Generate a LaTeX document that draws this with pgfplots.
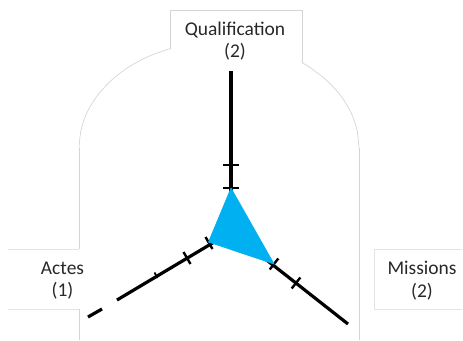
\documentclass[border=0pt]{standalone}
\usepackage{pgfplots}
\pgfplotsset{compat=1.18}
\usepackage{fontspec}
\setmainfont{Carlito}
\definecolor{fillblue}{RGB}{0,176,240}
\definecolor{outline}{RGB}{212,212,212}
\definecolor{boxline}{RGB}{228,228,228}
\definecolor{txt}{RGB}{40,40,40}
\begin{document}
\begin{tikzpicture}
\begin{axis}[
  scale only axis,
  width=347.25pt, height=255pt,
  xmin=0, xmax=463, ymin=0, ymax=340,
  y dir=reverse,
  hide axis,
  clip=false,
]
% keep the full frame in the bounding box
\addplot[draw=none] coordinates {(0,0) (463,340)};

% rounded outline behind the chart
\addplot[outline, line width=0.5pt, smooth] coordinates {
  (79,148) (81.1,129.6) (87.4,111.7) (97.8,95) (111.8,79.9) (129,66.8) (149,56.2) (170,48.7)};
\addplot[outline, line width=0.5pt, smooth] coordinates {
  (302,62.7) (309,66.8) (326.2,79.9) (340.2,95) (350.6,111.7) (356.9,129.6) (359,148)};
\addplot[outline, line width=0.5pt] coordinates {(359,148) (359,340)};
\addplot[outline, line width=0.5pt] coordinates {(79,148) (79,249)};
\addplot[outline, line width=0.5pt] coordinates {(79,309) (79,340)};

% label boxes
\addplot[outline, line width=0.5pt] coordinates {(170,48.7) (170,10) (302,10) (302,62.7)};
\addplot[boxline, line width=0.5pt] coordinates {(8,249) (79,249)};
\addplot[boxline, line width=0.5pt] coordinates {(8,309) (79,309)};
\addplot[boxline, line width=0.5pt] coordinates {(462,249) (374,249) (374,309) (462,309)};

% spokes
\addplot[black, line width=2.4pt] coordinates {(231,71) (231,232)};
\addplot[black, line width=2.4pt] coordinates {(231,232) (348,324)};
\addplot[black, line width=2.4pt] coordinates {(231,232) (117,300)};
\addplot[black, line width=2.4pt] coordinates {(102,309) (88,317)};

% tick marks
\addplot[black, line width=1.8pt] coordinates {(223,165) (239,165)};
\addplot[black, line width=1.8pt] coordinates {(223,188) (239,188)};
\addplot[black, line width=1.8pt] coordinates {(183.5,252) (190.5,264)};
\addplot[black, line width=1.8pt] coordinates {(205.5,237) (212.5,249)};
\addplot[black, line width=1.3pt] coordinates {(154.5,272.5) (157.5,278)};
\addplot[black, line width=1.8pt] coordinates {(278.3,258.5) (269.7,269.5)};
\addplot[black, line width=1.8pt] coordinates {(300.3,277.5) (291.7,288.5)};

% data area
\addplot[fill=fillblue, draw=fillblue, line width=0.5pt] coordinates {
  (231,188) (274,264) (208.5,242) (231,188)};

% category labels
\node[txt, align=center, font=\fontsize{14.6}{17}\selectfont] at (axis cs:235,41) {Qualification\\(2)};
\node[txt, align=center, font=\fontsize{14.6}{17}\selectfont] at (axis cs:62.5,280.5) {Actes\\(1)};
\node[txt, align=center, font=\fontsize{14.6}{17}\selectfont] at (axis cs:422,280.5) {Missions\\(2)};
\end{axis}
\end{tikzpicture}
\end{document}
